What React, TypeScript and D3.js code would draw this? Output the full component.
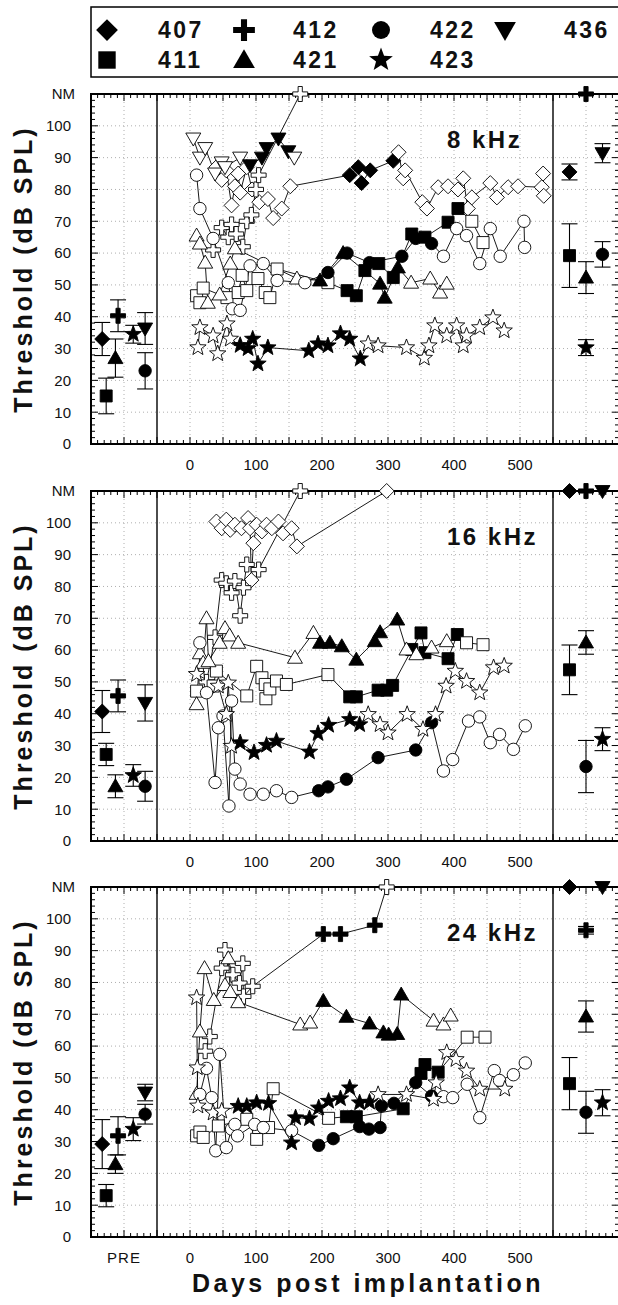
import React from 'react';
import * as d3 from 'd3';

type Pt = [number, number, number]; // day, dB (110 = NM), filled (1) / open (0)
type Summ = [string, number, number, number]; // animal, day position, mean, sd

const NM = 110;
const ANIMALS = ['407', '412', '436', '411', '421', '422', '423'];
const LEGEND_ROW1 = ['407', '412', '422', '436'];
const LEGEND_ROW2 = ['411', '421', '423'];
const FREQ_LABELS = ['8 kHz', '16 kHz', '24 kHz'];
const DAY_TICKS = [0, 100, 200, 300, 400, 500];
const DB_TICKS = [0, 10, 20, 30, 40, 50, 60, 70, 80, 90, 100];
const PRE_DAY: Record<string, number> = { '407': -133, '411': -127, '421': -113, '412': -109, '423': -86, '436': -68, '422': -68 };

// ---------- 8 kHz ----------
const k8_407: Pt[] = [[40,87,0],[48,83,0],[55,86,0],[63,75,0],[68,81,0],[73,85,0],[76,79,0],[86,87,0],[94,80,0],[105,76,0],[118,77,0],[126,71,0],[139,74,0],[152,81,0],[242,84.5,1],[255,87,1],[260,82,1],[273,86,1],[308,89,1],[316,91.7,0],[323,83.5,0],[326,86,0],[352,76,0],[359,74,0],[376,80.7,0],[391,81,0],[406,80,0],[414,83.5,0],[421,74,0],[427,77.5,0],[455,82,0],[465,77.5,0],[482,80.7,0],[497,81,0],[533,80.7,0],[535,85,0],[536,78,0]];
const k8_412: Pt[] = [[35,61,0],[48,68,0],[58,65,0],[63,69,0],[70,66,0],[80,62,0],[86,70,0],[93,72,0],[100,80,0],[104,84.5,0],[167,110,0]];
const k8_436: Pt[] = [[5,96,0],[15,90,0],[23,93,0],[38,85,0],[48,88.5,0],[53,87,0],[76,90,0],[91,87.6,1],[109,90,1],[116,93,1],[134,96,1],[149,92,1],[158,90,0]];
const k8_411: Pt[] = [[10,46.6,0],[15,44.4,0],[20,49,0],[56,46,0],[73,47.6,0],[79,53,0],[86,48.2,0],[103,52,0],[114,47.6,0],[121,46,0],[132,55,0],[209,50.7,0],[238,48.2,1],[252,46.6,1],[265,54.5,1],[286,56.7,1],[308,52.3,1],[336,66,1],[356,65,1],[391,69.7,1],[406,74,1],[427,70,0],[444,63.3,0]];
const k8_421: Pt[] = [[10,65.5,0],[15,63,0],[23,57,0],[27,44.4,0],[45,47,0],[61,56.7,0],[68,61.5,0],[162,52,0],[197,51.4,1],[232,60,1],[288,50.4,1],[295,46,1],[315,55.5,1],[335,50.7,0],[364,52,0],[379,47.6,0],[389,50.4,0]];
const k8_422: Pt[] = [[10,84.5,0],[15,74,0],[35,64.6,0],[58,50.7,0],[64,42.5,0],[76,42,0],[91,56,0],[111,56.7,0],[132,51.4,0],[174,50.7,0],[209,53.9,1],[238,60,1],[272,57,1],[321,59,1],[342,64.6,1],[366,63,1],[384,59,0],[404,67.7,0],[419,65.5,0],[439,56.7,0],[455,67.7,0],[470,59,0],[506,70,0],[507,61.8,0]];
const k8_423: Pt[] = [[12,30.3,0],[15,36.6,0],[35,34,0],[42,28.4,0],[56,37.8,0],[61,33,0],[76,31,1],[88,30,1],[95,33,1],[103,25.2,1],[118,30.3,1],[180,29.3,1],[194,31.5,1],[209,30.9,1],[228,34.7,1],[242,33,1],[258,26.8,1],[270,31.5,0],[285,30.9,0],[328,30.3,0],[355,27,0],[362,30.9,0],[371,37.2,0],[389,34,0],[404,37.2,0],[414,30.9,0],[419,34,0],[439,36.6,0],[459,39.7,0],[476,35.6,0]];
const pre8: Summ[] = [['407',0,33,5.2],['411',0,15.1,5.6],['421',0,27,6],['412',0,40.3,5],['423',0,34.5,2.8],['436',0,36.3,5],['422',0,23,5.7]];
const post8: Summ[] = [['407',575,85.5,2.5],['412',600,110,0],['436',625,91.4,3],['411',575,59.2,10],['421',600,52.3,5],['422',625,59.6,4],['423',600,30.3,2.5]];

// ---------- 16 kHz ----------
const k16_407: Pt[] = [[40,100.4,0],[48,98.3,0],[55,101,0],[61,97.8,0],[68,99.4,0],[78,98.3,0],[88,101.5,0],[91,98.3,0],[93,82,0],[96,93.6,0],[101,99.4,0],[109,97.3,0],[116,99.4,0],[124,98.3,0],[134,100.4,0],[141,96.7,0],[154,98.3,0],[162,92.6,0],[298,110,0]];
const k16_412: Pt[] = [[25,50,0],[38,64,0],[48,82,0],[55,81,0],[63,78,0],[68,81.7,0],[76,70.8,0],[81,79.6,0],[86,86.9,0],[104,85.3,0],[167,110,0]];
const k16_436: Pt[] = [];
const k16_411: Pt[] = [[10,47.1,0],[35,48.7,0],[40,53.4,0],[86,45.6,0],[101,54.9,0],[109,51.3,0],[114,49.2,0],[115,44.7,0],[121,47.8,0],[131,50.3,0],[146,49.2,0],[209,52.3,0],[242,45.3,1],[252,45.3,1],[285,47.4,1],[298,47.4,1],[307,48.9,1],[336,60.2,1],[350,65.4,1],[356,59.2,1],[391,57.3,1],[405,64.9,1],[419,62.3,0],[444,61.7,0]];
const k16_421: Pt[] = [[10,43,0],[15,59,0],[20,56,0],[25,70,0],[28,56.5,0],[45,62.3,0],[53,66.9,0],[60,64.6,0],[73,62.3,0],[159,57.6,0],[187,65.4,0],[197,62.3,1],[212,62.3,1],[230,61.2,1],[252,57,1],[280,62.8,1],[288,65.6,1],[314,69.6,1],[328,60.2,0],[343,58.7,0],[366,60.8,0],[389,62.8,0]];
const k16_422: Pt[] = [[15,62.3,0],[25,46.6,0],[38,18.4,0],[43,35.6,0],[50,39.3,0],[59,11,0],[63,44,0],[68,22.6,0],[76,17.9,0],[91,14.7,0],[111,14.7,0],[131,15.8,0],[154,13.7,0],[195,15.8,1],[209,17,1],[237,19.4,1],[285,26.2,1],[342,28.6,1],[366,37.2,1],[384,22,0],[398,25.6,0],[422,37.7,0],[439,39,0],[455,30.9,0],[469,33.5,0],[490,28.8,0],[508,36.2,0]];
const k16_423: Pt[] = [[10,52.4,0],[43,48.7,0],[55,39.8,0],[58,49.7,0],[63,29.8,0],[76,30.9,1],[97,27.8,1],[116,30.1,1],[131,31.4,1],[181,28,1],[194,33.8,1],[210,36.4,1],[242,38.2,1],[257,36.6,1],[270,39.8,0],[288,36.6,0],[300,34,0],[329,39.8,0],[353,35.1,0],[372,39.8,0],[388,48.7,0],[402,53.4,0],[419,50.2,0],[439,46.6,0],[460,54.5,0],[476,55,0]];
const pre16: Summ[] = [['407',0,40.7,6.6],['411',0,27.2,3.5],['421',0,17.2,3.6],['412',0,45.6,5],['423',0,20.6,3.4],['436',0,43.4,5.7],['422',0,17.2,4.7]];
const post16: Summ[] = [['407',575,110,0],['412',600,110,0],['436',625,110,0],['411',575,53.8,7.8],['421',600,62.4,3.7],['422',600,23.4,8.2],['423',625,32,3.6]];

// ---------- 24 kHz ----------
const k24_407: Pt[] = [];
const k24_412: Pt[] = [[23,58.4,0],[30,63,0],[48,84.5,0],[53,90.2,0],[65,82.4,0],[75,79.8,0],[80,86,0],[81,75.6,0],[95,78.8,0],[202,95.2,1],[228,95.2,1],[280,98,1],[298,110,0]];
const k24_436: Pt[] = [];
const k24_411: Pt[] = [[10,31.8,0],[15,33,0],[20,31.3,0],[43,34.9,0],[86,37,0],[101,30.7,0],[104,34.4,0],[119,34.4,0],[126,46.6,0],[210,37.3,0],[237,37.8,1],[252,37.8,1],[323,40.3,1],[350,51.4,1],[356,54.2,1],[376,51.8,1],[420,62.8,0],[447,62.8,0]];
const k24_421: Pt[] = [[10,45,0],[15,64.6,0],[22,84.5,0],[36,74.5,0],[53,79.2,0],[58,87.6,0],[61,77,0],[73,73.8,0],[167,66.8,0],[182,67.4,0],[202,74.2,1],[237,69.2,1],[272,67.1,1],[293,64.3,1],[301,63.6,1],[314,63.8,1],[320,76.2,1],[369,68,0],[384,66.8,0],[395,69.6,0]];
const k24_422: Pt[] = [[15,44.8,0],[25,53,0],[33,43.8,0],[39,27.1,0],[45,57.4,0],[55,28.1,0],[63,33.9,0],[68,35.4,0],[72,31.8,0],[98,35.4,0],[111,34.4,0],[154,33.4,0],[195,28.8,1],[217,30.9,1],[257,34.7,1],[271,33.9,1],[288,34.4,1],[290,41.2,1],[309,42,1],[342,48.5,1],[366,44.3,1],[384,44.1,0],[398,43.8,0],[420,48,0],[439,37.5,0],[461,52.3,0],[469,49.2,0],[490,51,0],[508,54.7,0]];
const k24_423: Pt[] = [[10,75.2,0],[11,53.2,0],[12,41.2,0],[35,39,0],[48,39.6,0],[73,41.1,1],[86,41.1,1],[101,42.2,1],[119,42,1],[154,29.6,1],[160,37.5,1],[181,37.2,1],[195,40.6,1],[210,42.7,1],[228,43.5,1],[242,46.9,1],[257,42.2,1],[272,42.4,1],[285,44.8,0],[328,44.8,0],[369,43.3,0],[373,48.5,0],[389,58,0],[403,55.8,0],[419,52.2,0],[439,46.5,0],[477,46.5,0]];
const pre24: Summ[] = [['407',0,29.2,7.7],['411',0,13,3.5],['421',0,22.9,2.9],['412',0,31.8,6],['423',0,33.9,3.6],['436',0,45.4,2.6],['422',0,38.6,3.1]];
const post24: Summ[] = [['407',575,110,0],['436',625,110,0],['412',600,96.4,1.2],['421',600,69.3,4.9],['411',575,48.2,8.2],['422',600,39.2,6.6],['423',625,42.2,4.1]];

const PANELS = [
  { series: { '407': k8_407, '412': k8_412, '436': k8_436, '411': k8_411, '421': k8_421, '422': k8_422, '423': k8_423 } as Record<string, Pt[]>, pre: pre8, post: post8 },
  { series: { '407': k16_407, '412': k16_412, '436': k16_436, '411': k16_411, '421': k16_421, '422': k16_422, '423': k16_423 } as Record<string, Pt[]>, pre: pre16, post: post16 },
  { series: { '407': k24_407, '412': k24_412, '436': k24_436, '411': k24_411, '421': k24_421, '422': k24_422, '423': k24_423 } as Record<string, Pt[]>, pre: pre24, post: post24 },
];

// ---------- layout ----------
const W = 618, H = 1305;
const PANEL_TOP = [94, 491, 887];
const PANEL_H = 350;
const FONT = '"Liberation Sans", Arial, Helvetica, sans-serif';

const x = d3.scaleLinear().domain([-150, 650]).range([91, 619]);

function shape(a: string, s: number): string {
  if (a === '407') { const r = 7.5 * s; return `M0,${-r}L${r},0L0,${r}L${-r},0Z`; }
  if (a === '411') { const h = 6 * s; return `M${-h},${-h}H${h}V${h}H${-h}Z`; }
  if (a === '412') {
    const L = 7.5 * s, t = 2.1 * s;
    return `M${-t},${-L}H${t}V${-t}H${L}V${t}H${t}V${L}H${-t}V${t}H${-L}V${-t}H${-t}Z`;
  }
  if (a === '421') { return `M0,${-7.5 * s}L${7.5 * s},${5.5 * s}L${-7.5 * s},${5.5 * s}Z`; }
  if (a === '436') { return `M0,${7.5 * s}L${7.5 * s},${-5.5 * s}L${-7.5 * s},${-5.5 * s}Z`; }
  if (a === '422') { const r = 6.2 * s; return `M${r},0A${r},${r},0,1,1,${-r},0A${r},${r},0,1,1,${r},0Z`; }
  // star
  const R = 8.6 * s, r = 3.6 * s;
  const pts: string[] = [];
  for (let i = 0; i < 10; i++) {
    const ang = -Math.PI / 2 + (i * Math.PI) / 5;
    const rr = i % 2 === 0 ? R : r;
    pts.push(`${(rr * Math.cos(ang)).toFixed(2)},${(rr * Math.sin(ang)).toFixed(2)}`);
  }
  return 'M' + pts.join('L') + 'Z';
}

function Panel({ idx }: { idx: number }) {
  const top = PANEL_TOP[idx];
  const bottom = top + PANEL_H;
  const y = d3.scaleLinear().domain([0, NM]).range([bottom, top]);
  const p = PANELS[idx];
  const left = x(-150), right = x(650);
  const line = d3.line<Pt>().x((d) => x(d[0])).y((d) => y(d[1]));

  const yMinor = d3.range(0, NM + 0.1, 2);
  const xMinor = d3.range(-150, 651, 10);
  const gridY = DB_TICKS.filter((v) => v > 0);
  const gridX = d3.range(-100, 601, 50).filter((d) => d !== -50 && d !== 550);

  return (
    <g>
      {/* grid */}
      {gridY.map((v) => (
        <line key={'gy' + v} x1={left} x2={right} y1={y(v)} y2={y(v)} stroke="#9a9a9a" strokeWidth={0.8} strokeDasharray="1,3" />
      ))}
      {gridX.map((d) => (
        <line key={'gx' + d} x1={x(d)} x2={x(d)} y1={top} y2={bottom} stroke="#9a9a9a" strokeWidth={0.8} strokeDasharray="1,3" />
      ))}
      {/* dividers */}
      <line x1={x(-50)} x2={x(-50)} y1={top} y2={bottom} stroke="#000" strokeWidth={1.4} />
      <line x1={x(550)} x2={x(550)} y1={top} y2={bottom} stroke="#000" strokeWidth={1.4} />
      {/* ticks */}
      {yMinor.map((v) => {
        const len = v % 10 === 0 ? 7 : 4;
        return (
          <g key={'ty' + v}>
            <line x1={left} x2={left + len} y1={y(v)} y2={y(v)} stroke="#000" strokeWidth={1} />
            <line x1={right - len} x2={right} y1={y(v)} y2={y(v)} stroke="#000" strokeWidth={1} />
          </g>
        );
      })}
      {xMinor.map((d) => {
        const len = d % 50 === 0 ? 7 : 4;
        return (
          <g key={'tx' + d}>
            <line x1={x(d)} x2={x(d)} y1={bottom} y2={bottom - len} stroke="#000" strokeWidth={1} />
            <line x1={x(d)} x2={x(d)} y1={top} y2={top + len} stroke="#000" strokeWidth={1} />
          </g>
        );
      })}
      {/* frame */}
      <rect x={left} y={top} width={right - left} height={bottom - top} fill="none" stroke="#000" strokeWidth={2} />
      {/* y labels */}
      {DB_TICKS.map((v) => (
        <text key={'yl' + v} x={71} y={y(v)} dy="0.36em" textAnchor="end" fontSize={15} fontFamily={FONT} fill="#111">{v}</text>
      ))}
      <text x={75} y={y(NM)} dy="0.36em" textAnchor="end" fontSize={15} fontFamily={FONT} fill="#111">NM</text>
      {/* x labels */}
      {DAY_TICKS.map((d) => (
        <text key={'xl' + d} x={x(d)} y={bottom + 26} textAnchor="middle" fontSize={15} fontFamily={FONT} fill="#111">{d}</text>
      ))}
      {idx === 2 && (
        <text x={124} y={bottom + 26} textAnchor="middle" fontSize={15} fontFamily={FONT} letterSpacing={1} fill="#111">PRE</text>
      )}
      {/* y title */}
      <text transform={`translate(23,${(top + bottom) / 2}) rotate(-90)`} textAnchor="middle" dominantBaseline="central" fontSize={25} fontWeight="bold" letterSpacing={3} fontFamily={FONT} fill="#111">Threshold (dB SPL)</text>
      {/* frequency label */}
      <text x={447} y={top + 54} fontSize={24} fontWeight="bold" letterSpacing={2.5} fontFamily={FONT} fill="#111">{FREQ_LABELS[idx]}</text>

      {/* time-course lines */}
      {ANIMALS.map((a) => {
        const s = p.series[a];
        if (!s || s.length < 2) return null;
        const sorted = s.slice().sort((u, v) => u[0] - v[0]);
        return <path key={'ln' + a} d={line(sorted) || ''} fill="none" stroke="#000" strokeWidth={0.9} />;
      })}
      {/* time-course markers */}
      {ANIMALS.map((a) => (
        <g key={'mk' + a}>
          {(p.series[a] || []).map((d, i) => (
            <path key={i} d={shape(a, 1)} transform={`translate(${x(d[0])},${y(d[1])})`} fill={d[2] ? '#000' : '#fff'} stroke="#000" strokeWidth={0.9} />
          ))}
        </g>
      ))}

      {/* PRE and final summaries */}
      {[...p.pre.map((d) => [d[0], PRE_DAY[d[0]], d[2], d[3]] as Summ), ...p.post].map((d, i) => {
        const cx = x(d[1]);
        const cy = y(d[2]);
        return (
          <g key={'sm' + i}>
            {d[3] > 0 && (
              <g stroke="#000" strokeWidth={1.1}>
                <line x1={cx} x2={cx} y1={y(d[2] - d[3])} y2={y(d[2] + d[3])} />
                <line x1={cx - 8} x2={cx + 8} y1={y(d[2] - d[3])} y2={y(d[2] - d[3])} />
                <line x1={cx - 8} x2={cx + 8} y1={y(d[2] + d[3])} y2={y(d[2] + d[3])} />
              </g>
            )}
            <path d={shape(d[0], 1)} transform={`translate(${cx},${cy})`} fill="#000" stroke="#000" strokeWidth={0.9} />
          </g>
        );
      })}
    </g>
  );
}

function Legend() {
  const rows = [LEGEND_ROW1, LEGEND_ROW2];
  const symX = [107, 244, 381, 505];
  const txtX = [158, 293, 430, 564];
  const rowY = [30, 60];
  return (
    <g>
      <rect x={91} y={7} width={560} height={70} fill="#fff" stroke="#000" strokeWidth={1.5} />
      {rows.map((r, ri) =>
        r.map((a, i) => (
          <g key={a}>
            <path d={shape(a, 1.45)} transform={`translate(${symX[i]},${rowY[ri]})`} fill="#000" />
            <text x={txtX[i]} y={rowY[ri]} dy="0.36em" fontSize={23} fontWeight="bold" letterSpacing={2.5} fontFamily={FONT} fill="#111">{a}</text>
          </g>
        ))
      )}
    </g>
  );
}

export default function App() {
  return (
    <svg width={W} height={H} viewBox={`0 0 ${W} ${H}`} style={{ position: 'absolute', left: 0, top: 0, background: '#fff' }}>
      <rect width={W} height={H} fill="#fff" />
      <Legend />
      {[0, 1, 2].map((i) => <Panel key={i} idx={i} />)}
      <text x={368} y={1292} textAnchor="middle" fontSize={25} fontWeight="bold" letterSpacing={3.5} fontFamily={FONT} fill="#111">Days post implantation</text>
    </svg>
  );
}
